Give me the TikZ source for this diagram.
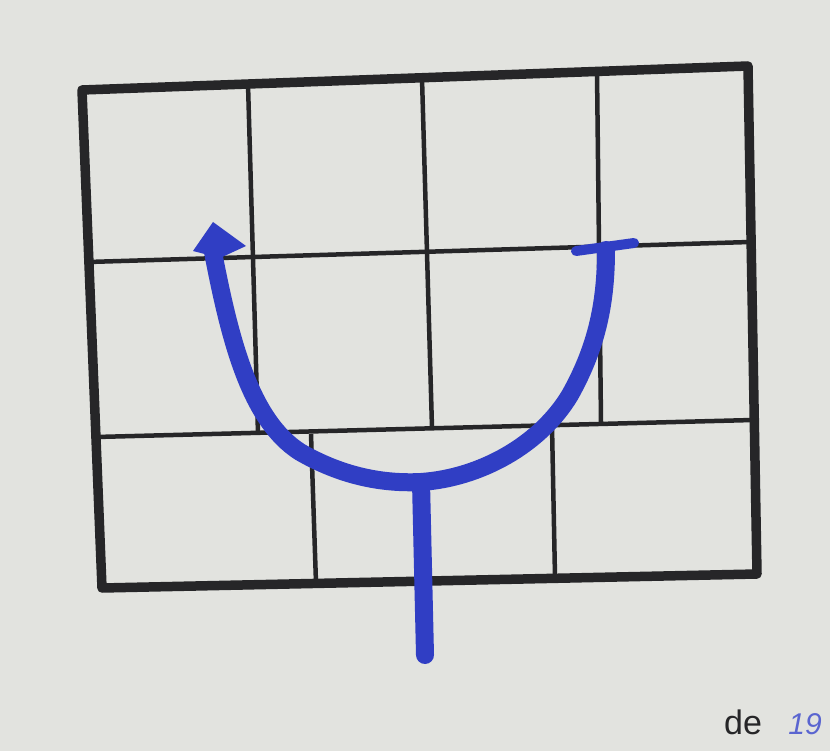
\documentclass[tikz,border=0pt]{standalone}
\usepackage{fontspec}
\setmainfont{Liberation Sans}
\definecolor{paper}{RGB}{226,227,223}
\definecolor{ink}{RGB}{38,38,40}
\definecolor{pen}{RGB}{48,62,196}
\tikzset{
  outer/.style={draw=ink, line width=9.5pt, line join=round},
  inner/.style={draw=ink, line width=4.5pt},
  penline/.style={draw=pen, line width=18pt, line cap=round, line join=round},
}
\begin{document}
\begin{tikzpicture}[x=1pt,y=-1pt]
\fill[paper] (0,0) rectangle (830,751);
\useasboundingbox (0,0) rectangle (830,751);
\begin{scope}
\clip (0,0) rectangle (830,751);
% grid corners
\coordinate (A) at (82,90);
\coordinate (B) at (748,66);
\coordinate (C) at (757,574);
\coordinate (D) at (102,588);
% inner lines
\coordinate (h1a) at (88,262); \coordinate (h1b) at (750,242);
\coordinate (h2a) at (96,437);  \coordinate (h2b) at (753,420);
\coordinate (v1a) at (248,84);  \coordinate (v1b) at (258,434);
\coordinate (v2a) at (422,78);  \coordinate (v2b) at (432,428);
\coordinate (v3a) at (597,72);  \coordinate (v3b) at (601,422);
\coordinate (v4a) at (311,434); \coordinate (v4b) at (316,583);
\coordinate (v5a) at (552,426); \coordinate (v5b) at (555,577);
\draw[inner] (h1a) -- (h1b);
\draw[inner] (h2a) -- (h2b);
\draw[inner] (v1a) -- (v1b);
\draw[inner] (v2a) -- (v2b);
\draw[inner] (v3a) -- (v3b);
\draw[inner] (v4a) -- (v4b);
\draw[inner] (v5a) -- (v5b);
\draw[outer] (A) -- (B) -- (C) -- (D) -- cycle;
% blue pen path
\coordinate (start) at (425,655);
\coordinate (mid) at (421,482);
\coordinate (ltop) at (213,252);
\coordinate (rtop) at (606,250);
\draw[penline] (start) -- (mid);
\draw[penline] (ltop) .. controls (230,340) and (250,420) .. (300,452)
  .. controls (340,475) and (380,484) .. (mid)
  .. controls (480,478) and (540,445) .. (570,395)
  .. controls (598,345) and (606,300) .. (rtop);
\coordinate (tip) at (213,222);
\coordinate (bl) at (193,251);
\coordinate (br) at (246,246);
\fill[pen] (tip) -- (br) -- (220,258) -- (bl) -- cycle;
\coordinate (tbl) at (576,251);
\coordinate (tbr) at (634,243);
\draw[pen, line width=10pt, line cap=round] (tbl) -- (tbr);
% texts at the bottom edge
\node[anchor=base west, text=ink, font=\fontsize{34}{34}\selectfont, inner sep=0pt] (de) at (724,734) {de};
\node[anchor=base east, text=pen!80, font=\itshape\fontsize{30}{30}\selectfont, inner sep=0pt] (yr) at (822,734) {19};
\end{scope}
\end{tikzpicture}
\end{document}
